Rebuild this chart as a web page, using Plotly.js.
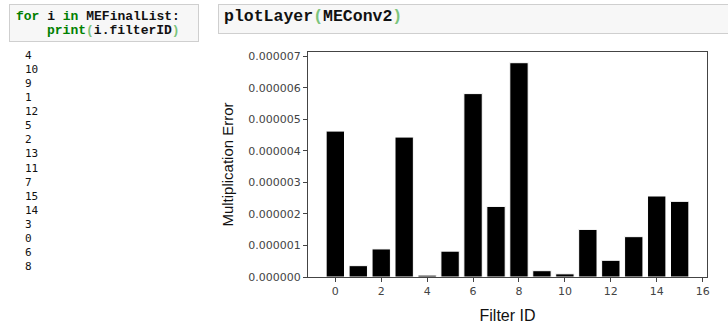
<!DOCTYPE html>
<html>
<head>
<meta charset="utf-8">
<script src="https://cdn.plot.ly/plotly-3.0.1.min.js"></script>
<style>
  html, body { margin: 0; padding: 0; background: #fff; }
  #wrap { position: relative; width: 728px; height: 328px; overflow: hidden; }
  #chart { position: absolute; left: 0; top: 0; width: 728px; height: 328px; }
  .cell {
    position: absolute; background: #f7f7f7; border: 1px solid #cfcfcf;
    box-sizing: border-box;
  }
  .code {
    position: absolute; font-family: "Liberation Mono", "DejaVu Sans Mono", monospace;
    font-weight: bold; color: #111; white-space: pre;
  }
  .kw { color: #008000; }
  .br { color: #7cc47c; }
  .num {
    position: absolute; left: 25px; font-family: "DejaVu Sans Mono", monospace;
    font-size: 11px; line-height: 12px; color: #111; white-space: pre;
  }
</style>
</head>
<body>
<div id="wrap">
  <div id="chart"></div>
  <div class="cell" style="left:9px; top:4px; width:190px; height:38px;"></div>
  <div class="cell" style="left:218px; top:4px; width:520px; height:30px;"></div>
  <div class="code" id="l1" style="left:16px; top:10px; font-size:13px; line-height:14px;"></div>
  <div class="code" id="l2" style="left:47px; top:24px; font-size:13px; line-height:14px;"></div>
  <div class="code" id="l3" style="left:224px; top:8px; font-size:16.5px; line-height:18px;"></div>
  <div id="out"></div>
</div>
<script>
// Filter IDs and the multiplication error of each filter in layer MEConv2
const filterIds = [0, 1, 2, 3, 4, 5, 6, 7, 8, 9, 10, 11, 12, 13, 14, 15];
const multErrors = [4.63e-6, 0.36e-6, 0.89e-6, 4.44e-6, 0.06e-6, 0.82e-6, 5.82e-6, 2.24e-6,
                    6.80e-6, 0.20e-6, 0.10e-6, 1.51e-6, 0.53e-6, 1.28e-6, 2.57e-6, 2.40e-6];
// Order printed by the loop over MEFinalList
const finalListOrder = [4, 10, 9, 1, 12, 5, 2, 13, 11, 7, 15, 14, 3, 0, 6, 8];
const xTicks = [0, 2, 4, 6, 8, 10, 12, 14, 16];
const yTicks = [0, 1e-6, 2e-6, 3e-6, 4e-6, 5e-6, 6e-6, 7e-6];

// Notebook cells: source lines with syntax colouring
document.getElementById('l1').innerHTML =
  '<span class="kw">for</span><span> i </span><span class="kw">in</span><span> MEFinalList:</span>';
document.getElementById('l2').innerHTML =
  '<span class="kw">print</span><span class="br">(</span><span>i.filterID</span><span class="br">)</span>';
document.getElementById('l3').innerHTML =
  '<span>plotLayer</span><span class="br">(</span><span>MEConv2</span><span class="br">)</span>';

// Printed output, one line per filter ID
const out = document.getElementById('out');
finalListOrder.forEach((id, i) => {
  const d = document.createElement('div');
  d.className = 'num';
  d.style.top = (50 + i * 14.07).toFixed(2) + 'px';
  d.textContent = String(id);
  out.appendChild(d);
});

const yMax = Math.max(...multErrors) * 1.05;

const trace = {
  type: 'bar',
  x: filterIds,
  y: multErrors,
  marker: { color: '#000000', line: { color: '#ffffff', width: 1 } },
  hoverinfo: 'skip'
};

const tickFont = { family: 'DejaVu Sans, sans-serif', size: 11, color: '#444' };

const layout = {
  width: 728, height: 328,
  margin: { l: 308, r: 21, t: 52, b: 51 },
  paper_bgcolor: '#ffffff', plot_bgcolor: '#ffffff',
  showlegend: false,
  bargap: 0.2,
  xaxis: {
    range: [-1.19, 16.19],
    tickvals: xTicks, ticktext: xTicks.map(String),
    ticks: 'outside', ticklen: 4, tickwidth: 1, tickcolor: '#444',
    showline: true, linecolor: '#444', linewidth: 1, mirror: true,
    showgrid: false, zeroline: false,
    tickfont: tickFont,
    title: { text: 'Filter ID', font: { family: 'Liberation Sans, Arial, sans-serif', size: 16, color: '#111' }, standoff: 12 }
  },
  yaxis: {
    range: [0, yMax],
    tickvals: yTicks, ticktext: yTicks.map(v => v.toFixed(6)),
    ticks: 'outside', ticklen: 4, tickwidth: 1, tickcolor: '#444',
    showline: true, linecolor: '#444', linewidth: 1, mirror: true,
    showgrid: false, zeroline: false,
    tickfont: tickFont,
    title: { text: 'Multiplication Error', font: { family: 'Liberation Sans, Arial, sans-serif', size: 15, color: '#111' }, standoff: 11 }
  }
};

Plotly.newPlot('chart', [trace], layout, { staticPlot: true, displayModeBar: false });
</script>
</body>
</html>
